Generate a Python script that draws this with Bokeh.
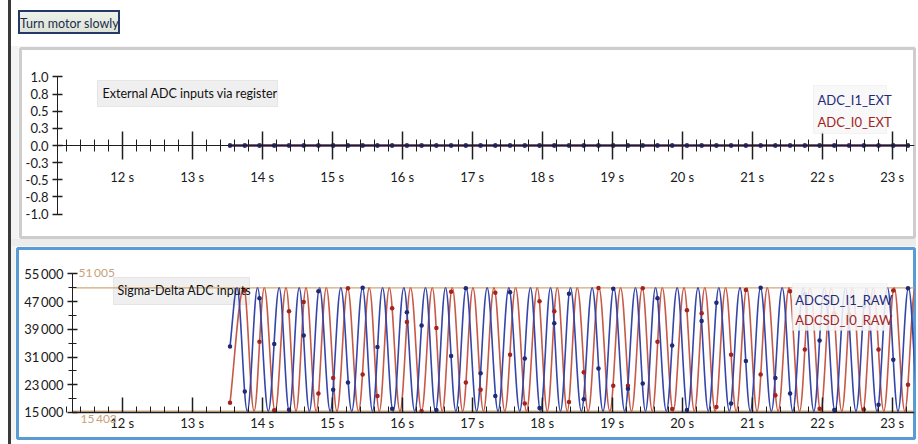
from bokeh.plotting import figure
from bokeh.models import Range1d, FixedTicker, Div, Label, BoxAnnotation
from bokeh.layouts import row, column
from bokeh.embed import file_html
from bokeh.resources import INLINE

FONT = "Lato"

# ---------------- data ----------------
time_ticks = [12, 13, 14, 15, 16, 17, 18, 19, 20, 21, 22, 23]
time_labels = ["12 s", "13 s", "14 s", "15 s", "16 s", "17 s", "18 s", "19 s",
               "20 s", "21 s", "22 s", "23 s"]
time_minor = [11.2, 11.4, 11.6, 11.8, 12.2, 12.4, 12.6, 12.8, 13.2, 13.4, 13.6, 13.8,
              14.2, 14.4, 14.6, 14.8, 15.2, 15.4, 15.6, 15.8, 16.2, 16.4, 16.6, 16.8,
              17.2, 17.4, 17.6, 17.8, 18.2, 18.4, 18.6, 18.8, 19.2, 19.4, 19.6, 19.8,
              20.2, 20.4, 20.6, 20.8, 21.2, 21.4, 21.6, 21.8, 22.2, 22.4, 22.6, 22.8,
              23.2]

ext_ticks = [-1.0, -0.75, -0.5, -0.25, 0.0, 0.25, 0.5, 0.75, 1.0]
ext_labels = ["-1.0", "-0.8", "-0.5", "-0.3", "0.0", "0.3", "0.5", "0.8", "1.0"]

raw_ticks = [15000, 23000, 31000, 39000, 47000, 55000]
raw_labels = ["15\u2009000", "23\u2009000", "31\u2009000", "39\u2009000", "47\u2009000", "55\u2009000"]
raw_minor = [19000, 27000, 35000, 43000, 51000]

ext_t_start = 11.076      # first visible time of the top chart
raw_t_start = 11.290      # first visible time of the bottom chart
view_t_end = 23.319       # last visible time

raw_max = 51005
raw_min = 15403

sample_t = [13.540, 13.751, 13.961, 14.172, 14.383, 14.593, 14.803, 15.014, 15.225, 15.435,
            15.646, 15.856, 16.067, 16.277, 16.488, 16.699, 16.909, 17.120, 17.330, 17.541,
            17.751, 17.962, 18.173, 18.383, 18.594, 18.804, 19.015, 19.225, 19.436, 19.647,
            19.857, 20.068, 20.278, 20.489, 20.699, 20.910, 21.121, 21.331, 21.542, 21.752,
            21.963, 22.173, 22.384, 22.595, 22.805, 23.016, 23.226]

adc_i1_ext = [0.0, 0.0, 0.0, 0.0, 0.0, 0.0, 0.0, 0.0, 0.0, 0.0, 0.0, 0.0, 0.0, 0.0, 0.0, 0.0,
              0.0, 0.0, 0.0, 0.0, 0.0, 0.0, 0.0, 0.0, 0.0, 0.0, 0.0, 0.0, 0.0, 0.0, 0.0, 0.0,
              0.0, 0.0, 0.0, 0.0, 0.0, 0.0, 0.0, 0.0, 0.0, 0.0, 0.0, 0.0, 0.0, 0.0, 0.0]
adc_i0_ext = [0.0, 0.0, 0.0, 0.0, 0.0, 0.0, 0.0, 0.0, 0.0, 0.0, 0.0, 0.0, 0.0, 0.0, 0.0, 0.0,
              0.0, 0.0, 0.0, 0.0, 0.0, 0.0, 0.0, 0.0, 0.0, 0.0, 0.0, 0.0, 0.0, 0.0, 0.0, 0.0,
              0.0, 0.0, 0.0, 0.0, 0.0, 0.0, 0.0, 0.0, 0.0, 0.0, 0.0, 0.0, 0.0, 0.0, 0.0]

adcsd_i1_samples = [34060, 21060, 48030, 34750, 15790, 37260, 50010, 21580, 23660, 51000,
                    33950, 16060, 43970, 40110, 15700, 31340, 50910, 26300, 19770, 49760,
                    30600, 16300, 40790, 49310, 18800, 27700, 50750, 21860, 23360, 48030,
                    34320, 15720, 41450, 46680, 17600, 29870, 51000, 24960, 20490, 49150,
                    35800, 15750, 41780, 45660, 17260, 30240, 50900]
adcsd_i0_samples = [17800, 50240, 35430, 15670, 44260, 46930, 20490, 24960, 50910, 25960,
                    19730, 45110, 41130, 15450, 39410, 49890, 23660, 21580, 49610, 31710,
                    17610, 47160, 44260, 18020, 26650, 50960, 22740, 22740, 50900, 35430,
                    16000, 44550, 43670, 16580, 31710, 50350, 25960, 19980, 50010, 33200,
                    16100, 43670, 43370, 15900, 33200, 50240, 23040]

# times of the maxima / minima of the continuous traces
adcsd_i1_peaks = [13.640, 13.933, 14.243, 14.529, 14.819, 15.123, 15.433, 15.719, 16.023,
                  16.333, 16.619, 16.914, 17.214, 17.523, 17.833, 18.119, 18.404, 18.714,
                  19.023, 19.333, 19.619, 19.929, 20.226, 20.523, 20.826, 21.119, 21.429,
                  21.730, 22.031, 22.333, 22.633, 22.933, 23.233]
adcsd_i1_troughs = [13.787, 14.087, 14.386, 14.674, 14.971, 15.279, 15.576, 15.871, 16.179,
                    16.476, 16.767, 17.064, 17.369, 17.679, 17.976, 18.261, 18.560, 18.869,
                    19.179, 19.476, 19.774, 20.077, 20.374, 20.674, 20.973, 21.274, 21.580,
                    21.881, 22.183, 22.483, 22.783, 23.083, 23.383]
adcsd_i0_peaks = [13.737, 14.030, 14.340, 14.626, 14.916, 15.220, 15.530, 15.816, 16.120,
                  16.430, 16.716, 17.011, 17.311, 17.620, 17.930, 18.216, 18.501, 18.811,
                  19.120, 19.430, 19.716, 20.026, 20.323, 20.620, 20.923, 21.216, 21.526,
                  21.827, 22.128, 22.430, 22.730, 23.030, 23.330]
adcsd_i0_troughs = [13.884, 14.184, 14.483, 14.771, 15.068, 15.376, 15.673, 15.968, 16.276,
                    16.573, 16.864, 17.161, 17.466, 17.776, 18.073, 18.358, 18.657, 18.966,
                    19.276, 19.573, 19.871, 20.174, 20.471, 20.771, 21.070, 21.371, 21.677,
                    21.978, 22.280, 22.580, 22.880, 23.180]

# ---------------- styling ----------------
NAVY = "#1f2a78"
NAVY_LINE = "#3646a8"
RED = "#a3231f"
RED_LINE = "#c65a48"
TAN = "#d3a878"
TAN_TEXT = "#c8a27c"
AXIS = "#1e1e1e"
LABEL = "#1a1a1a"
FS = "13px"


def make_fig(w, h, xr, yr, outline):
    p = figure(width=w, height=h, x_range=Range1d(*xr), y_range=Range1d(*yr),
               toolbar_location=None, output_backend="svg",
               min_border_left=2, min_border_right=2, min_border_top=2, min_border_bottom=2,
               background_fill_color="white", border_fill_color="white",
               outline_line_color=outline, outline_line_width=3)
    p.grid.visible = False
    return p


def style_axis(ax):
    ax.axis_line_color = AXIS
    ax.major_tick_line_color = AXIS
    ax.minor_tick_line_color = AXIS
    ax.major_tick_line_width = 1.5
    ax.major_label_text_font = FONT
    ax.major_label_text_font_size = FS
    ax.major_label_text_color = LABEL


def bezier_trace(p, start_t, start_v, peaks, troughs, color):
    pts = sorted([(t, raw_max) for t in peaks] + [(t, raw_min) for t in troughs])
    pts = [(start_t, start_v)] + pts
    K = 0.364
    x0, y0, x1, y1, cx0, cy0, cx1, cy1 = [], [], [], [], [], [], [], []
    for i in range(len(pts) - 1):
        ta, va = pts[i]
        tb, vb = pts[i + 1]
        dt = tb - ta
        x0.append(ta); y0.append(va); x1.append(tb); y1.append(vb)
        if i == 0:
            cx0.append(ta + 0.3 * dt); cy0.append(va + 0.3 * (vb - va))
        else:
            cx0.append(ta + K * dt); cy0.append(va)
        cx1.append(tb - K * dt); cy1.append(vb)
    p.bezier(x0=x0, y0=y0, x1=x1, y1=y1, cx0=cx0, cy0=cy0, cx1=cx1, cy1=cy1,
             line_color=color, line_width=1.6)


# ---------------- top panel ----------------
p1 = make_fig(898, 193, (10.547, 23.319), (-1.343, 1.416), "#cdcdcd")
xa = p1.xaxis[0]
xa.fixed_location = 0
xa.bounds = (ext_t_start, view_t_end)
xa.ticker = FixedTicker(ticks=time_ticks, minor_ticks=time_minor)
xa.major_label_overrides = dict(zip(time_ticks, time_labels))
xa.major_tick_in = 14
xa.major_tick_out = 14
xa.minor_tick_in = 6
xa.minor_tick_out = 6
xa.major_label_standoff = 9
style_axis(xa)

ya = p1.yaxis[0]
ya.fixed_location = ext_t_start
ya.bounds = (-1, 1)
ya.ticker = FixedTicker(ticks=ext_ticks, minor_ticks=[])
ya.major_label_overrides = dict(zip(ext_ticks, ext_labels))
ya.major_tick_in = 5
ya.major_tick_out = 5
ya.major_label_standoff = 4
style_axis(ya)

p1.line(sample_t, adc_i0_ext, line_color=RED, line_width=2)
p1.scatter(sample_t, adc_i0_ext, size=4.5, fill_color=RED, line_color=None)
p1.line(sample_t, adc_i1_ext, line_color=NAVY, line_width=2)
p1.scatter(sample_t, adc_i1_ext, size=4.5, fill_color=NAVY, line_color=None)

p1.add_layout(BoxAnnotation(left=11.647, right=14.219, bottom=0.569, top=0.949,
                            fill_color="#efefef", fill_alpha=1.0,
                            line_color="#bdbdbd", line_width=1))
p1.add_layout(Label(x=11.719, y=0.759, text="External ADC inputs via register",
                    text_font=FONT, text_font_size="12.5px", text_color="#111111",
                    text_baseline="middle", text_align="left"))
p1.add_layout(BoxAnnotation(left=21.876, right=22.918, bottom=0.175, top=0.876,
                            fill_color="#f7f7f7", fill_alpha=0.9,
                            line_color="#dddddd", line_width=1))
p1.add_layout(Label(x=21.933, y=0.657, text="ADC_I1_EXT", text_font=FONT,
                    text_font_size=FS, text_color=NAVY, text_baseline="middle"))
p1.add_layout(Label(x=21.933, y=0.343, text="ADC_I0_EXT", text_font=FONT,
                    text_font_size=FS, text_color=RED, text_baseline="middle"))

# ---------------- bottom panel ----------------
p2 = make_fig(901, 194, (10.504, 23.319), (7491, 62363), "#5a9bd4")
xb = p2.xaxis[0]
xb.fixed_location = 15000
xb.bounds = (raw_t_start, view_t_end)
xb.ticker = FixedTicker(ticks=time_ticks, minor_ticks=time_minor)
xb.major_label_overrides = dict(zip(time_ticks, time_labels))
xb.major_tick_in = 15
xb.major_tick_out = 0
xb.minor_tick_in = 6
xb.minor_tick_out = 0
xb.major_label_standoff = 3
style_axis(xb)
xb.axis_line_width = 1.5

yb = p2.yaxis[0]
yb.fixed_location = raw_t_start
yb.bounds = (15000, 55000)
yb.ticker = FixedTicker(ticks=raw_ticks, minor_ticks=raw_minor)
yb.major_label_overrides = dict(zip(raw_ticks, raw_labels))
yb.major_tick_in = 5
yb.major_tick_out = 5
yb.minor_tick_in = 4
yb.minor_tick_out = 4
yb.major_label_standoff = 4
style_axis(yb)

# min / max markers
p2.segment(x0=[raw_t_start, raw_t_start], y0=[raw_max, raw_min],
           x1=[view_t_end, view_t_end], y1=[raw_max, raw_min],
           line_color=TAN, line_width=1.3)
p2.add_layout(Label(x=11.376, y=55430, text=f"{raw_max:,}".replace(",", "\u2009"),
                    text_font=FONT, text_font_size="12px", text_color=TAN_TEXT,
                    text_baseline="middle"))
p2.add_layout(Label(x=11.404, y=13270, text=f"{raw_min:,}".replace(",", "\u2009"),
                    text_font=FONT, text_font_size="12px", text_color=TAN_TEXT,
                    text_baseline="middle"))

p2.add_layout(BoxAnnotation(left=11.876, right=13.819, bottom=46190, top=53990,
                            fill_color="#efefef", fill_alpha=1.0,
                            line_color="#bdbdbd", line_width=1, level="underlay"))

bezier_trace(p2, sample_t[0], adcsd_i0_samples[0], adcsd_i0_peaks, adcsd_i0_troughs, RED_LINE)
bezier_trace(p2, sample_t[0], adcsd_i1_samples[0], adcsd_i1_peaks, adcsd_i1_troughs, NAVY_LINE)
p2.scatter(sample_t, adcsd_i0_samples, size=4.5, fill_color=RED, line_color=None)
p2.scatter(sample_t, adcsd_i1_samples, size=4.5, fill_color=NAVY, line_color=None)

p2.add_layout(Label(x=11.933, y=50230, text="Sigma-Delta ADC inputs", text_font=FONT,
                    text_font_size="12.5px", text_color="#111111", text_baseline="middle"))
p2.add_layout(BoxAnnotation(left=21.573, right=22.930, bottom=38680, top=52260,
                            fill_color="#f6f6f6", fill_alpha=0.88,
                            line_color="#e2e2e2", line_width=1))
p2.add_layout(Label(x=21.616, y=47350, text="ADCSD_I1_RAW", text_font=FONT,
                    text_font_size=FS, text_color=NAVY, text_baseline="middle"))
p2.add_layout(Label(x=21.616, y=41570, text="ADCSD_I0_RAW", text_font=FONT,
                    text_font_size=FS, text_color=RED, text_baseline="middle"))

# ---------------- page layout ----------------
button_html = (
    "<div style=\"position:relative;width:905px;height:46px;background:#ffffff;\">"
    "<div style=\"position:absolute;left:7px;top:10px;width:102px;height:24px;"
    "border:2px solid #24386a;background:linear-gradient(#eef2ea,#dde4d6);"
    f"font-family:'{FONT}',sans-serif;font-size:12.5px;color:#1c2b4d;"
    "line-height:24px;text-align:center;white-space:nowrap;overflow:hidden;\">"
    "Turn motor slowly</div></div>"
)
header = Div(text=button_html, width=905, height=46, margin=(0, 0, 0, 0),
             styles={"background-color": "#ffffff"})
gap = Div(text="", width=905, height=7, margin=(0, 0, 0, 0),
          styles={"background-color": "#ececec"})
p1.margin = (0, 0, 0, 7)
p2.margin = (0, 0, 0, 4)
bar = Div(text="", width=3, height=444, margin=(0, 0, 0, 8),
          styles={"background-color": "#3a3a3a"})
col = column(header, p1, gap, p2, spacing=0, margin=(0, 0, 0, 0),
             styles={"background-color": "#f3f3f3"})
root = row(bar, col, spacing=0, margin=(0, 0, 0, 0))

open("out.html", "w").write(file_html(root, INLINE))
